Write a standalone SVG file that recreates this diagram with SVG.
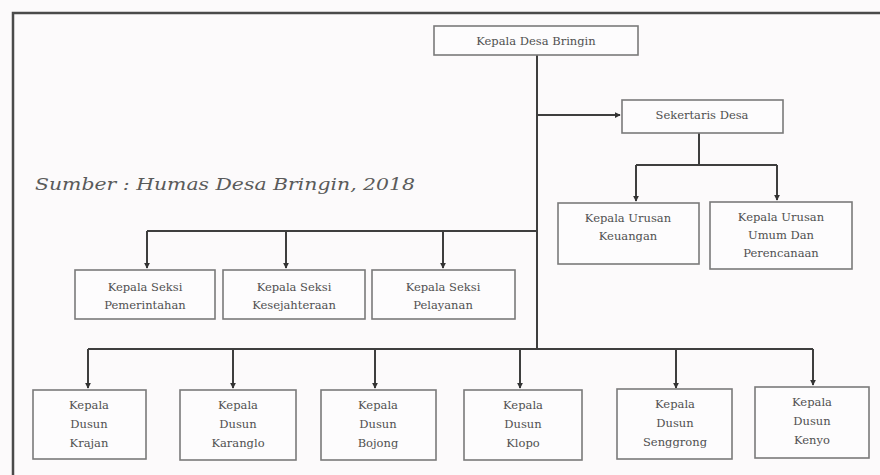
<svg xmlns="http://www.w3.org/2000/svg" width="880" height="475" viewBox="0 0 880 475">
<defs>
<style>
.bg{fill:#fcfafb}
.frame{fill:none;stroke:#4a4a4a;stroke-width:2.5}
.box{fill:#fdfcfd;stroke:#7a7a7a;stroke-width:1.6}
.t{font-family:"DejaVu Serif","Liberation Serif",serif;font-size:11.5px;fill:#505050;text-anchor:middle}
.cap{font-family:"DejaVu Serif","Liberation Serif",serif;font-style:italic;font-size:17px;fill:#5a5a5a}
.ln{fill:none;stroke:#3e3e3e;stroke-width:2}
</style>
<marker id="ah" viewBox="0 0 8 8" refX="7" refY="4" markerWidth="6" markerHeight="6" orient="auto" markerUnits="userSpaceOnUse">
<path d="M0,0 L8,4 L0,8 Z" fill="#333"/>
</marker>
</defs>
<rect class="bg" x="0" y="0" width="880" height="475"/>
<path class="frame" d="M13,480 L13,13 L885,13"/>
<text class="cap" x="35" y="190" textLength="380" lengthAdjust="spacingAndGlyphs">Sumber : Humas Desa Bringin, 2018</text>

<g id="connectors">
<path class="ln" d="M537,55 L537,349"/>
<path class="ln" d="M537,115 L620,115" marker-end="url(#ah)"/>
<path class="ln" d="M699,133 L699,165"/>
<path class="ln" d="M636,165 L777,165"/>
<path class="ln" d="M636,165 L636,201" marker-end="url(#ah)"/>
<path class="ln" d="M777,165 L777,200" marker-end="url(#ah)"/>
<path class="ln" d="M537,231 L147,231"/>
<path class="ln" d="M147,231 L147,268" marker-end="url(#ah)"/>
<path class="ln" d="M286,231 L286,268" marker-end="url(#ah)"/>
<path class="ln" d="M443,231 L443,268" marker-end="url(#ah)"/>
<path class="ln" d="M88,349 L813,349"/>
<path class="ln" d="M88,349 L88,388" marker-end="url(#ah)"/>
<path class="ln" d="M233,349 L233,388" marker-end="url(#ah)"/>
<path class="ln" d="M375,349 L375,388" marker-end="url(#ah)"/>
<path class="ln" d="M520,349 L520,388" marker-end="url(#ah)"/>
<path class="ln" d="M676,349 L676,388" marker-end="url(#ah)"/>
<path class="ln" d="M813,349 L813,385" marker-end="url(#ah)"/>
</g>

<g id="kepala-desa">
<rect class="box" x="434" y="26" width="204" height="29"/>
<text class="t" x="536" y="45">Kepala Desa Bringin</text>
</g>
<g id="sekretaris">
<rect class="box" x="622" y="100" width="161" height="33"/>
<text class="t" x="702" y="119">Sekertaris Desa</text>
</g>
<g id="kaur-keuangan">
<rect class="box" x="558" y="203" width="141" height="61"/>
<text class="t" x="628" y="222">Kepala Urusan</text>
<text class="t" x="628" y="240">Keuangan</text>
</g>
<g id="kaur-umum">
<rect class="box" x="710" y="202" width="142" height="67"/>
<text class="t" x="781" y="221">Kepala Urusan</text>
<text class="t" x="781" y="239">Umum Dan</text>
<text class="t" x="781" y="257">Perencanaan</text>
</g>
<g id="kasi-pemerintahan">
<rect class="box" x="75" y="270" width="140" height="49"/>
<text class="t" x="145" y="291">Kepala Seksi</text>
<text class="t" x="145" y="309">Pemerintahan</text>
</g>
<g id="kasi-kesejahteraan">
<rect class="box" x="223" y="270" width="142" height="49"/>
<text class="t" x="294" y="291">Kepala Seksi</text>
<text class="t" x="294" y="309">Kesejahteraan</text>
</g>
<g id="kasi-pelayanan">
<rect class="box" x="372" y="270" width="143" height="49"/>
<text class="t" x="443" y="291">Kepala Seksi</text>
<text class="t" x="443" y="309">Pelayanan</text>
</g>
<g id="dusun-krajan">
<rect class="box" x="33" y="390" width="113" height="69"/>
<text class="t" x="89" y="409">Kepala</text>
<text class="t" x="89" y="428">Dusun</text>
<text class="t" x="89" y="447">Krajan</text>
</g>
<g id="dusun-karanglo">
<rect class="box" x="180" y="390" width="116" height="70"/>
<text class="t" x="238" y="409">Kepala</text>
<text class="t" x="238" y="428">Dusun</text>
<text class="t" x="238" y="447">Karanglo</text>
</g>
<g id="dusun-bojong">
<rect class="box" x="321" y="390" width="115" height="70"/>
<text class="t" x="378" y="409">Kepala</text>
<text class="t" x="378" y="428">Dusun</text>
<text class="t" x="378" y="447">Bojong</text>
</g>
<g id="dusun-klopo">
<rect class="box" x="464" y="390" width="118" height="70"/>
<text class="t" x="523" y="409">Kepala</text>
<text class="t" x="523" y="428">Dusun</text>
<text class="t" x="523" y="447">Klopo</text>
</g>
<g id="dusun-senggrong">
<rect class="box" x="617" y="389" width="115" height="70"/>
<text class="t" x="675" y="408">Kepala</text>
<text class="t" x="675" y="427">Dusun</text>
<text class="t" x="675" y="446">Senggrong</text>
</g>
<g id="dusun-kenyo">
<rect class="box" x="755" y="387" width="114" height="71"/>
<text class="t" x="812" y="406">Kepala</text>
<text class="t" x="812" y="425">Dusun</text>
<text class="t" x="812" y="444">Kenyo</text>
</g>
</svg>
